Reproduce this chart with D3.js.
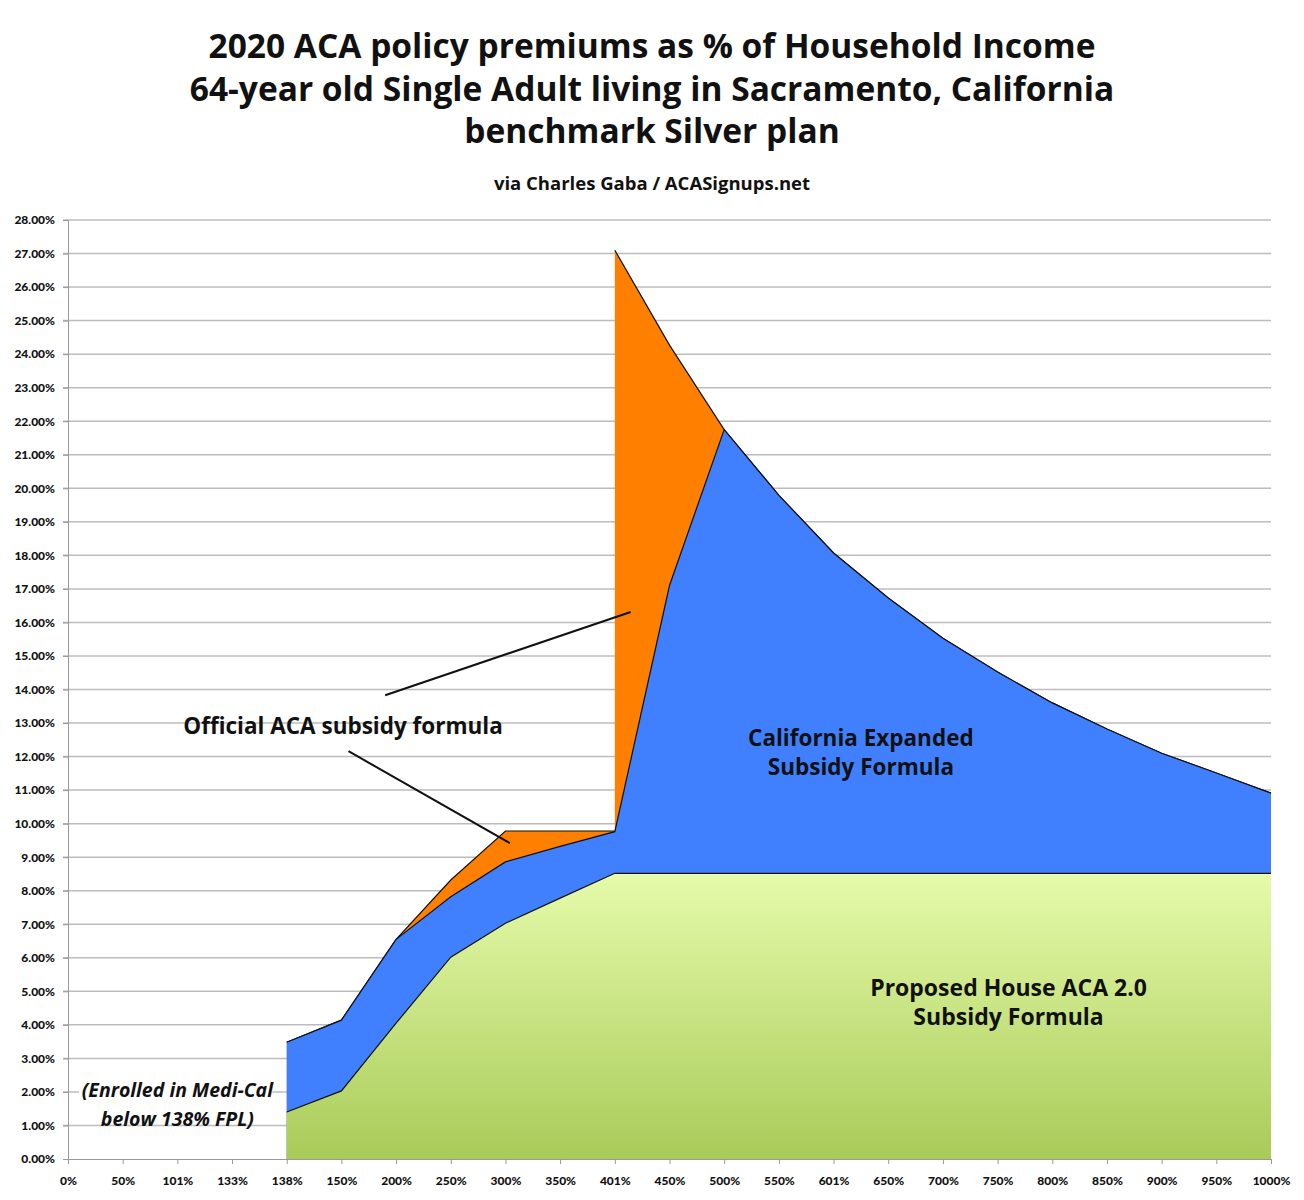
<!DOCTYPE html>
<html>
<head>
<meta charset="utf-8">
<script src="https://cdn.jsdelivr.net/npm/d3@7"></script>
<style>
  body { margin: 0; background: #fff; }
  text { font-family: "Open Sans", Lato, sans-serif; }
</style>
</head>
<body>
<svg></svg>
<script>

// x categories (% of FPL)
var categories = ["0%","50%","101%","133%","138%","150%","200%","250%","300%","350%","401%",
                  "450%","500%","550%","601%","650%","700%","750%","800%","850%","900%","950%","1000%"];

// premiums as % of income, from 138% FPL up
var houseCats = categories.slice(4);
var house = [1.40, 2.03, 4.05, 6.02, 7.03, 7.78, 8.52, 8.52, 8.52, 8.52, 8.52,
             8.52, 8.52, 8.52, 8.52, 8.52, 8.52, 8.52, 8.52];

var californiaCats = categories.slice(4);
var california = [3.48, 4.14, 6.55, 7.82, 8.86, 9.32, 9.76, 17.10, 21.75, 19.79, 18.07,
                  16.73, 15.53, 14.52, 13.60, 12.82, 12.10, 11.51, 10.91];

// official formula jumps at 401% (subsidy cliff), so 401% shows up twice
var officialCats = ["138%","150%","200%","250%","300%","350%","401%","401%","450%","500%",
                    "550%","601%","650%","700%","750%","800%","850%","900%","950%","1000%"];
var official = [3.48, 4.14, 6.55, 8.32, 9.78, 9.78, 9.78, 27.10, 24.27, 21.75,
                19.79, 18.07, 16.73, 15.53, 14.52, 13.60, 12.82, 12.10, 11.51, 10.91];

var yTicks = d3.range(0, 29, 1);

var titleLines = ["2020 ACA policy premiums as % of Household Income",
                  "64-year old Single Adult living in Sacramento, California",
                  "benchmark Silver plan"];

var svgwidth = 1304;
var svgheight = 1200;

var svg = d3.select('svg').attr('width', svgwidth).attr('height', svgheight);

var margins = { top: 220, bottom: 41, left: 68, right: 33 };

var xScale = d3.scalePoint()
               .domain(categories)
               .range([margins.left, svgwidth - margins.right]);

var yScale = d3.scaleLinear()
               .domain([0, 28])
               .range([svgheight - margins.bottom, margins.top]);

// position between categories (fractional index), used for annotations
var xAt = function(i){
  return xScale(categories[0]) + i * xScale.step();
}

var zip = function(cats, vals){
  return cats.map(function(c, i){ return { x: c, y: vals[i] }; });
}

// gradient for the green area
var defs = svg.append('defs');
var grad = defs.append('linearGradient')
               .attr('id', 'greenGrad')
               .attr('gradientUnits', 'userSpaceOnUse')
               .attr('x1', 0).attr('x2', 0)
               .attr('y1', yScale(8.52)).attr('y2', yScale(0));
grad.append('stop').attr('offset', '0%').attr('stop-color', '#e6fbab');
grad.append('stop').attr('offset', '100%').attr('stop-color', '#a9cb59');

// gridlines
svg.append('g').classed('grid', true)
   .selectAll('line')
   .data(yTicks.slice(1))
   .enter().append('line')
   .attr('x1', margins.left - 5)
   .attr('x2', svgwidth - margins.right)
   .attr('y1', function(d){ return yScale(d); })
   .attr('y2', function(d){ return yScale(d); })
   .attr('stroke', '#bcbcbc')
   .attr('stroke-width', 1.5);

var area = d3.area()
             .x(function(d){ return xScale(d.x); })
             .y0(yScale(0))
             .y1(function(d){ return yScale(d.y); });

var line = d3.line()
             .x(function(d){ return xScale(d.x); })
             .y(function(d){ return yScale(d.y); });

var plot = svg.append('g').classed('plot', true);

var officialData = zip(officialCats, official);
var californiaData = zip(californiaCats, california);
var houseData = zip(houseCats, house);

plot.append('path').datum(officialData)
    .attr('d', area).attr('fill', '#ff8000');
// outline drawn in two parts so the cliff edge has no stroke
plot.append('path').datum(officialData.slice(0, 7))
    .attr('d', line).attr('fill', 'none').attr('stroke', '#111').attr('stroke-width', 1.2);
plot.append('path').datum(officialData.slice(7))
    .attr('d', line).attr('fill', 'none').attr('stroke', '#111').attr('stroke-width', 1.2);

plot.append('path').datum(californiaData)
    .attr('d', area).attr('fill', '#4080ff');
plot.append('path').datum(californiaData)
    .attr('d', line).attr('fill', 'none').attr('stroke', '#111').attr('stroke-width', 1.2);

plot.append('path').datum(houseData)
    .attr('d', area).attr('fill', 'url(#greenGrad)');
plot.append('path').datum(houseData)
    .attr('d', line).attr('fill', 'none').attr('stroke', '#111').attr('stroke-width', 1.2);

// axes
var yAxis = d3.axisLeft(yScale)
              .tickValues(yTicks)
              .tickSize(5)
              .tickFormat(function(d){ return d.toFixed(2) + '%'; });
var yG = svg.append('g').classed('yAxis', true)
            .attr('transform', 'translate(' + margins.left + ',0)')
            .call(yAxis);

var xAxis = d3.axisBottom(xScale).tickSize(5).tickSizeOuter(0);
var xG = svg.append('g').classed('xAxis', true)
            .attr('transform', 'translate(0,' + yScale(0) + ')')
            .call(xAxis);

svg.selectAll('.yAxis path, .xAxis path').attr('stroke', '#999');
svg.selectAll('.yAxis .tick line, .xAxis .tick line').attr('stroke', '#999');
yG.selectAll('text')
  .attr('x', -13)
  .style('font-family', 'Lato, sans-serif')
  .style('font-weight', '900')
  .style('font-size', '12px')
  .attr('fill', '#111');
xG.selectAll('text')
  .attr('y', 17)
  .style('font-family', 'Lato, sans-serif')
  .style('font-weight', '900')
  .style('font-size', '12px')
  .attr('fill', '#111');

// titles
svg.append('g').selectAll('text')
   .data(titleLines)
   .enter().append('text')
   .attr('x', svgwidth / 2)
   .attr('y', function(d, i){ return 58 + i * 42.5; })
   .attr('text-anchor', 'middle')
   .style('font-weight', 'bold')
   .style('font-size', '33.5px')
   .attr('fill', '#111')
   .text(function(d){ return d; });

svg.append('text')
   .attr('x', svgwidth / 2)
   .attr('y', 190)
   .attr('text-anchor', 'middle')
   .style('font-weight', 'bold')
   .style('font-size', '18.5px')
   .attr('fill', '#111')
   .text('via Charles Gaba / ACASignups.net');

// annotations
var note = svg.append('g').classed('notes', true);

note.append('line')
    .attr('x1', xAt(5.80)).attr('y1', yScale(13.83))
    .attr('x2', xAt(10.29)).attr('y2', yScale(16.31))
    .attr('stroke', '#111').attr('stroke-width', 2);
note.append('line')
    .attr('x1', xAt(5.13)).attr('y1', yScale(12.16))
    .attr('x2', xAt(8.08)).attr('y2', yScale(9.42))
    .attr('stroke', '#111').attr('stroke-width', 2);

note.append('text')
    .attr('x', xAt(5.03)).attr('y', yScale(12.66))
    .attr('text-anchor', 'middle')
    .style('font-weight', 'bold').style('font-size', '22.5px')
    .attr('fill', '#111')
    .text('Official ACA subsidy formula');

var labelBlock = function(lines, cx, yTop, size, italic){
  note.append('g').selectAll('text')
      .data(lines)
      .enter().append('text')
      .attr('x', xAt(cx))
      .attr('y', function(d, i){ return yScale(yTop) + i * 29; })
      .attr('text-anchor', 'middle')
      .style('font-weight', 'bold')
      .style('font-style', italic ? 'italic' : 'normal')
      .style('font-size', size + 'px')
      .attr('fill', '#111')
      .text(function(d){ return d; });
}

labelBlock(['California Expanded', 'Subsidy Formula'], 14.50, 12.31, 22.5, false);
labelBlock(['Proposed House ACA 2.0', 'Subsidy Formula'], 17.20, 4.87, 23, false);

note.append('rect')
    .attr('x', xAt(0.2)).attr('y', yScale(2.65))
    .attr('width', xAt(3.74) - xAt(0.2)).attr('height', yScale(1.07) - yScale(2.65))
    .attr('fill', '#fff');
labelBlock(['(Enrolled in Medi-Cal', 'below 138% FPL)'], 2.0, 1.85, 19.5, true);

</script>
</body>
</html>
